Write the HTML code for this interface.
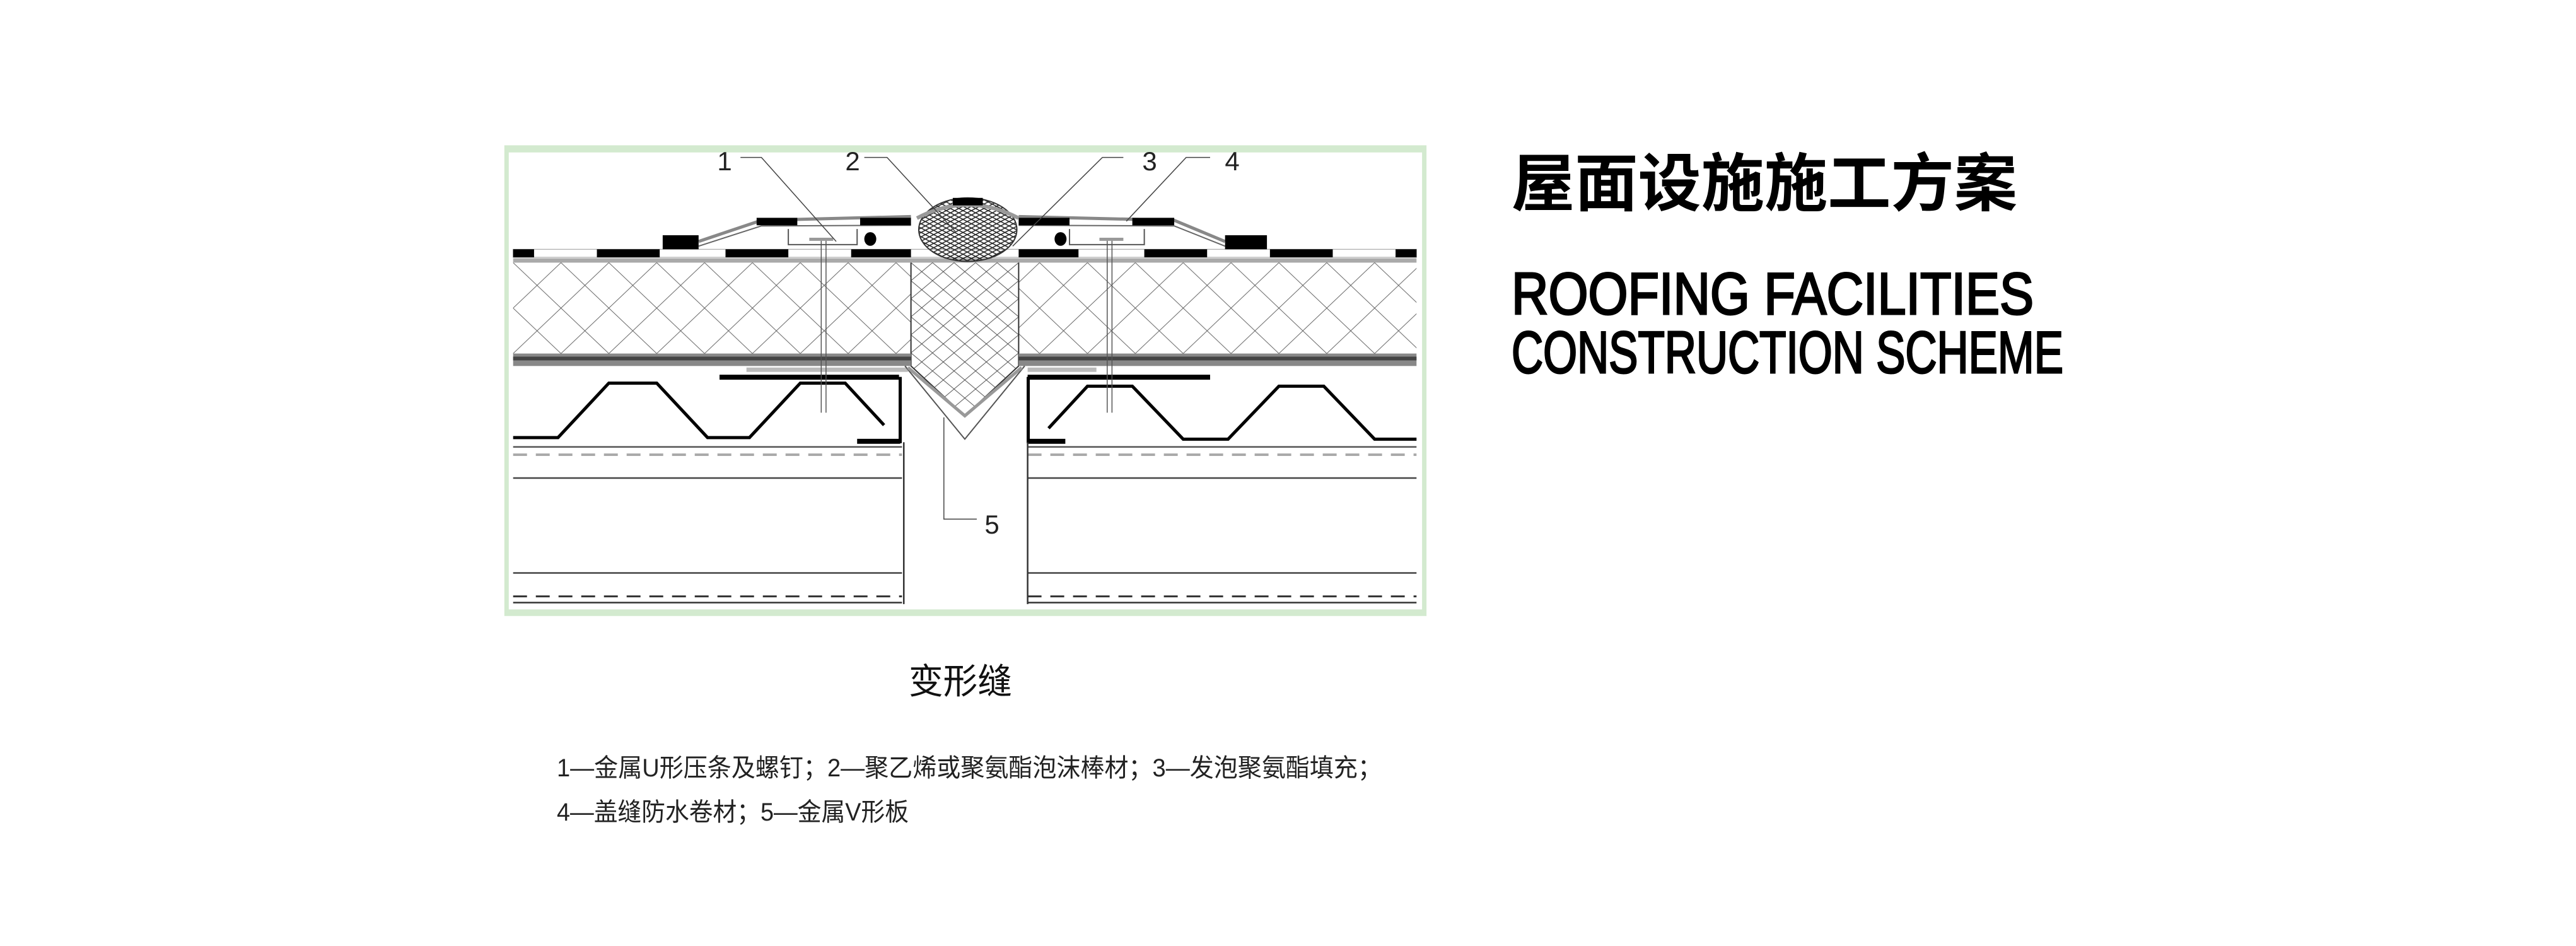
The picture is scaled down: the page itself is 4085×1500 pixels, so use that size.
<!DOCTYPE html>
<html><head><meta charset="utf-8"><style>
html,body{margin:0;padding:0;background:#fff;}
svg{display:block;}
</style></head><body>
<svg width="4085" height="1500" viewBox="0 0 4085 1500" xmlns="http://www.w3.org/2000/svg">
<defs>
<pattern id="dia" patternUnits="userSpaceOnUse" x="25" y="398" width="80" height="146">
<path d="M0 0 L80 146 M80 0 L0 146" stroke="#555" stroke-width="1.2" fill="none"/>
</pattern>
<pattern id="mesh" patternUnits="userSpaceOnUse" x="690" y="398" width="36" height="58">
<path d="M0 0 L36 58 M36 0 L0 58" stroke="#444" stroke-width="1.2" fill="none"/>
</pattern>
<pattern id="ball" patternUnits="userSpaceOnUse" width="14" height="14">
<path d="M0 0 L14 14 M14 0 L0 14" stroke="#222" stroke-width="2.5" fill="none"/>
</pattern>
</defs>

<svg x="790" y="220" width="1480" height="770" viewBox="0 0 1560 1560" preserveAspectRatio="none">
<g vector-effect="non-scaling-stroke">
<rect x="14" y="28" width="1534" height="1498" fill="#fff" stroke="#d3eacf" stroke-width="7" vector-effect="non-scaling-stroke"/>
<rect x="14" y="22" width="1534" height="22" fill="#d3eacf"/>
<rect x="14" y="1512" width="1534" height="18" fill="#d3eacf"/>

<rect x="25" y="398" width="665" height="292" fill="url(#dia)"/>
<rect x="870" y="398" width="665" height="292" fill="url(#dia)"/>
<path d="M690 390 L870 390 L870 730 L780 890 L690 730 Z" fill="url(#mesh)" stroke="#333" stroke-width="2" vector-effect="non-scaling-stroke"/>

<rect x="25" y="355" width="1510" height="26" fill="#fff" stroke="#999" stroke-width="1" vector-effect="non-scaling-stroke"/>
<g fill="#000">
<rect x="25" y="355" width="35" height="26"/><rect x="165" y="355" width="105" height="26"/>
<rect x="380" y="355" width="105" height="26"/><rect x="590" y="355" width="100" height="26"/>
<rect x="870" y="355" width="100" height="26"/><rect x="1080" y="355" width="105" height="26"/>
<rect x="1290" y="355" width="105" height="26"/><rect x="1500" y="355" width="35" height="26"/>
</g>
<rect x="25" y="384" width="1510" height="14" fill="#aaa"/>
<rect x="25" y="690" width="665" height="40" fill="#888"/>
<rect x="870" y="690" width="665" height="40" fill="#888"/>
<rect x="25" y="700" width="665" height="12" fill="#444"/>
<rect x="870" y="700" width="665" height="12" fill="#444"/>
<rect x="415" y="735" width="270" height="14" fill="#bbb"/>
<rect x="885" y="735" width="115" height="14" fill="#bbb"/>

<path d="M680 730 L780 965 L880 730" fill="none" stroke="#555" stroke-width="2" vector-effect="non-scaling-stroke"/>
<path d="M685 735 L780 890 L875 735" fill="none" stroke="#999" stroke-width="5" vector-effect="non-scaling-stroke"/>

<rect x="370" y="758" width="300" height="16" fill="#000"/>
<rect x="885" y="758" width="305" height="16" fill="#000"/>
<polyline points="25,960 100,960 185,785 265,785 350,960 420,960 505,785 580,785 645,920" fill="none" stroke="#000" stroke-width="5" vector-effect="non-scaling-stroke"/>
<polyline points="920,930 985,795 1060,795 1145,965 1220,965 1305,795 1380,795 1465,965 1535,965" fill="none" stroke="#000" stroke-width="5" vector-effect="non-scaling-stroke"/>
<path d="M672 765 L672 978 M886 765 L886 978" stroke="#000" stroke-width="5" vector-effect="non-scaling-stroke"/>
<rect x="600" y="964" width="72" height="16" fill="#000"/>
<rect x="886" y="964" width="62" height="16" fill="#000"/>

<g stroke-width="2.5" fill="none">
<path d="M25 990 H675 M885 990 H1535" stroke="#555" stroke-width="2.5" vector-effect="non-scaling-stroke"/>
<path d="M25 1015 H675 M885 1015 H1535" stroke="#aaa" stroke-dasharray="22 14" stroke-width="4" vector-effect="non-scaling-stroke"/>
<path d="M25 1090 H675 M885 1090 H1535" stroke="#444" stroke-width="2.5" vector-effect="non-scaling-stroke"/>
<path d="M25 1395 H675 M885 1395 H1535" stroke="#444" stroke-width="2.5" vector-effect="non-scaling-stroke"/>
<path d="M25 1470 H675 M885 1470 H1535" stroke="#333" stroke-dasharray="22 14" stroke-width="3" vector-effect="non-scaling-stroke"/>
<path d="M25 1490 H675 M885 1490 H1535" stroke="#333" stroke-width="2.5" vector-effect="non-scaling-stroke"/>
<path d="M678 975 V1495 M885 975 V1495" stroke="#333" stroke-width="2.5" vector-effect="non-scaling-stroke"/>
</g>

<path d="M335 330 L440 262 L690 250 M870 250 L1130 262 L1215 330" fill="none" stroke="#888" stroke-width="5" vector-effect="non-scaling-stroke"/>
<path d="M335 345 L440 280 L690 278 M870 278 L1130 280 L1215 345" fill="none" stroke="#666" stroke-width="2" vector-effect="non-scaling-stroke"/>
<g fill="#000">
<rect x="275" y="310" width="60" height="45"/>
<rect x="432" y="254" width="68" height="24"/>
<rect x="605" y="254" width="85" height="24"/>
<rect x="870" y="254" width="85" height="24"/>
<rect x="1060" y="254" width="70" height="24"/>
<rect x="1215" y="310" width="70" height="45"/>
</g>
<g fill="none" stroke="#555" stroke-width="2">
<path d="M485 290 V340 H600 V290" vector-effect="non-scaling-stroke"/>
<path d="M955 290 V340 H1080 V290" vector-effect="non-scaling-stroke"/>
</g>
<rect x="520" y="318" width="40" height="10" fill="#999"/>
<rect x="1005" y="318" width="40" height="10" fill="#999"/>
<ellipse cx="622" cy="322" rx="10" ry="22" fill="#000"/>
<ellipse cx="940" cy="322" rx="10" ry="22" fill="#000"/>
<path d="M540 328 V880 M548 328 V880 M1018 328 V880 M1026 328 V880" stroke="#555" stroke-width="1.5" vector-effect="non-scaling-stroke"/>

<ellipse cx="785" cy="292" rx="82" ry="102" fill="url(#ball)" stroke="#333" stroke-width="2" vector-effect="non-scaling-stroke"/>
<path d="M700 255 Q785 170 870 255" fill="none" stroke="#999" stroke-width="6" vector-effect="non-scaling-stroke"/>
<rect x="760" y="190" width="50" height="24" fill="#000"/>

<g fill="none" stroke="#444" stroke-width="1.5">
<path d="M405 60 H440 L565 330" vector-effect="non-scaling-stroke"/>
<path d="M612 60 H650 L765 300" vector-effect="non-scaling-stroke"/>
<path d="M1045 60 H1010 L860 345" vector-effect="non-scaling-stroke"/>
<path d="M1190 60 H1150 L1050 265" vector-effect="non-scaling-stroke"/>
<path d="M745 895 V1222 H800" vector-effect="non-scaling-stroke"/>
</g>
</g>
</svg>

<g font-family="Liberation Sans, sans-serif" font-size="42" fill="#222">
<text x="1149" y="270" text-anchor="middle">1</text>
<text x="1352" y="270" text-anchor="middle">2</text>
<text x="1823" y="270" text-anchor="middle">3</text>
<text x="1954" y="270" text-anchor="middle">4</text>
<text x="1573" y="846" text-anchor="middle">5</text>
</g>

<text x="2397" y="326" font-family="Liberation Sans, 'Noto Sans CJK SC', sans-serif" font-weight="bold" font-size="100" textLength="802" lengthAdjust="spacingAndGlyphs">屋面设施施工方案</text>
<text x="2397" y="498" font-family="Liberation Sans, sans-serif" font-size="94" stroke="#000" stroke-width="3" textLength="828" lengthAdjust="spacingAndGlyphs">ROOFING FACILITIES</text>
<text x="2397" y="591" font-family="Liberation Sans, sans-serif" font-size="94" stroke="#000" stroke-width="3" textLength="875" lengthAdjust="spacingAndGlyphs">CONSTRUCTION SCHEME</text>

<text x="1441" y="1100" font-family="Liberation Sans, 'Noto Sans CJK SC', sans-serif" font-size="56" textLength="164" lengthAdjust="spacingAndGlyphs" fill="#111">变形缝</text>
<text x="883" y="1231" font-family="Liberation Sans, 'Noto Sans CJK SC', sans-serif" font-size="40" textLength="1308" lengthAdjust="spacingAndGlyphs" fill="#222">1—金属U形压条及螺钉；2—聚乙烯或聚氨酯泡沫棒材；3—发泡聚氨酯填充；</text>
<text x="883" y="1301" font-family="Liberation Sans, 'Noto Sans CJK SC', sans-serif" font-size="40" textLength="558" lengthAdjust="spacingAndGlyphs" fill="#222">4—盖缝防水卷材；5—金属V形板</text>
</svg>
</body></html>
